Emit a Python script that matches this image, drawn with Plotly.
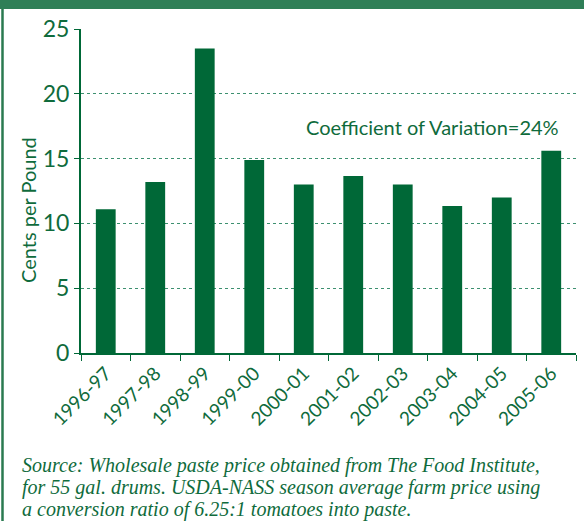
import plotly.graph_objects as go

seasons = ['1996-97', '1997-98', '1998-99', '1999-00', '2000-01',
           '2001-02', '2002-03', '2003-04', '2004-05', '2005-06']
cents = [11.1, 13.2, 23.5, 14.9, 13.0, 13.65, 13.0, 11.35, 12.0, 15.6]
y_ticks = [0, 5, 10, 15, 20, 25]
source_lines = ['Source: Wholesale paste price obtained from The Food Institute,',
                'for 55 gal. drums. USDA-NASS season average farm price using',
                'a conversion ratio of 6.25:1 tomatoes into paste.']

green = '#006837'
text_green = '#0f6b3c'

fig = go.Figure()
fig.add_trace(go.Bar(x=seasons, y=cents, marker_color=green, width=0.4,
                     marker_line_width=0))

fig.update_layout(
    width=584, height=521,
    margin=dict(l=81, r=8, t=29, b=168),
    plot_bgcolor='white', paper_bgcolor='white',
    showlegend=False,
    font=dict(family='Lato', color=text_green),
)
fig.update_xaxes(
    type='category', automargin=False,
    tickangle=-45, tickfont=dict(size=19, family='Lato', color=text_green),
    showline=True, linecolor=green, linewidth=2,
    ticks='outside', tickson='boundaries', ticklen=6, tickcolor=green,
    showgrid=False,
)
fig.update_yaxes(
    range=[0, 25], tickvals=y_ticks, automargin=False,
    tickfont=dict(size=23, family='Lato', color=text_green),
    showline=True, linecolor=green, linewidth=2,
    ticks='outside', ticklen=5, tickcolor=green,
    showgrid=True, gridcolor='#3d9070', griddash='dot', gridwidth=1,
    zeroline=False,
)

# y title
fig.add_annotation(text='Cents per Pound', xref='paper', yref='paper',
                   x=(28 - 81) / 495, y=(353 - 210) / 324, textangle=-90,
                   xanchor='center', yanchor='middle',
                   showarrow=False, font=dict(size=20, family='Lato', color=text_green))

# frame: top band and left rule
fig.add_shape(type='rect', xref='paper', yref='paper', x0=-0.17, x1=1.02,
              y0=(353 - 9) / 324, y1=1.1, fillcolor='#2f7f57', line_width=0, layer='above')
fig.add_shape(type='line', xref='paper', yref='paper', x0=(2.5 - 81) / 495, x1=(2.5 - 81) / 495,
              y0=(353 - 9) / 324, y1=-0.53, line=dict(color='#2a7a50', width=2.5))

fig.add_annotation(text='Coefficient of Variation=24%', xref='paper', yref='paper',
                   x=(432 - 81) / 495, y=(353 - 127) / 324, showarrow=False,
                   xanchor='center', yanchor='middle',
                   font=dict(size=20, family='Lato', color=text_green))

for i, line in enumerate(source_lines):
    fig.add_annotation(
        text=line, xref='paper', yref='paper',
        x=(20 - 81) / 495, y=(353 - (465 + 22 * i)) / 324,
        xanchor='left', yanchor='middle', align='left', showarrow=False,
        font=dict(size=20, family='Liberation Serif', color=text_green, style='italic'),
    )

fig.write_html('out.html', config={'displayModeBar': False},
               post_script="document.body.style.margin='0';")
